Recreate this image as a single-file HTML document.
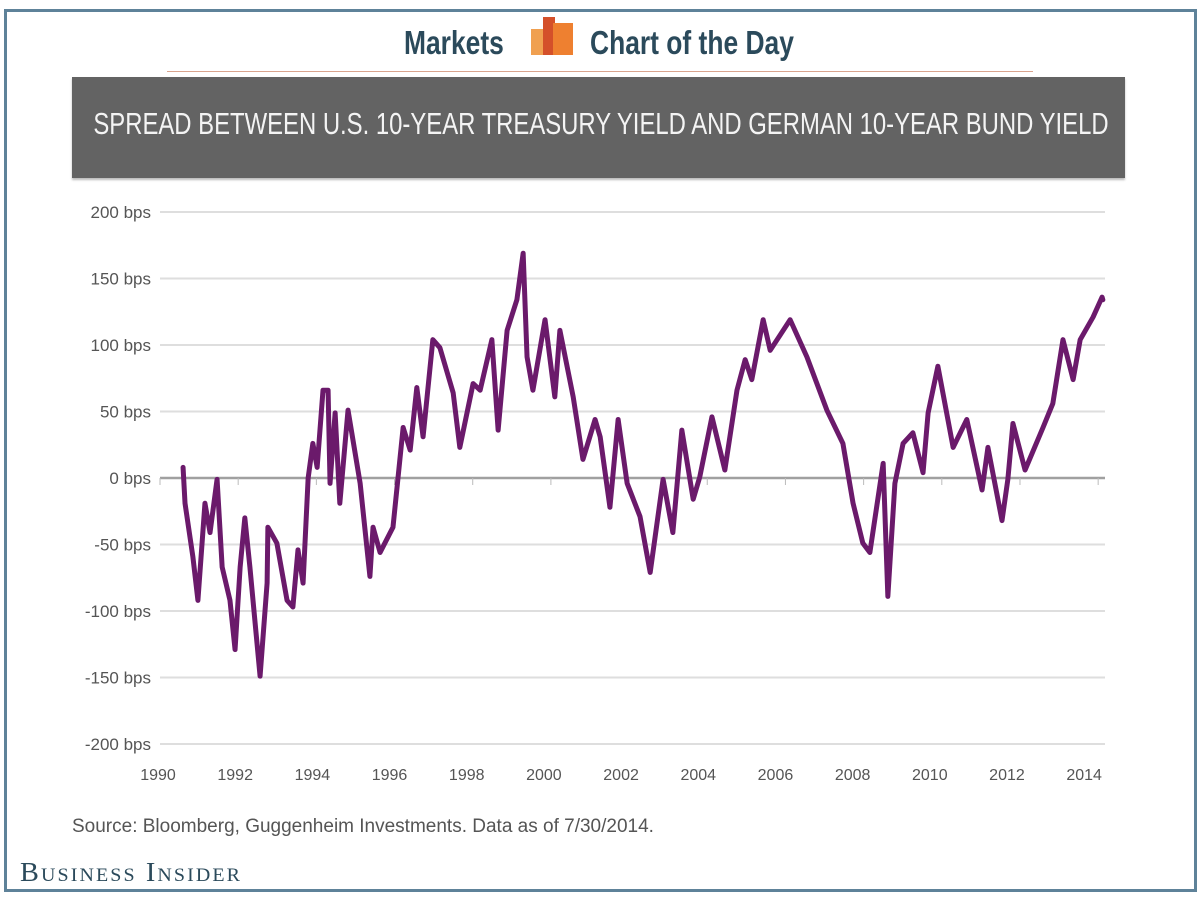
<!DOCTYPE html>
<html><head><meta charset="utf-8">
<style>
body{margin:0;background:#fff;width:1200px;height:900px;overflow:hidden;position:relative;font-family:"Liberation Sans",sans-serif}
.abs{position:absolute}
</style></head>
<body>
<div class="abs" style="left:4px;top:9px;width:1187px;height:877px;border:3px solid #5e8299;"></div>
<div class="abs" style="left:0;top:22px;width:1200px;height:46px;">
  <span class="abs" style="left:404px;top:2px;font-size:33px;font-weight:bold;color:#2b4a5b;transform:scaleX(0.8);transform-origin:left;font-family:'Liberation Sans Narrow','Liberation Sans',sans-serif;">Markets</span>
  <svg class="abs" style="left:529px;top:-5px" width="46" height="40">
    <rect x="2" y="12" width="14" height="26" fill="#f0a050"/><rect x="14" y="0" width="12" height="38" fill="#d4502a"/><rect x="24" y="6" width="20" height="32" fill="#ee8030"/>
  </svg>
  <span class="abs" style="left:590px;top:2px;font-size:33px;font-weight:bold;color:#2b4a5b;transform:scaleX(0.8);transform-origin:left;font-family:'Liberation Sans Narrow','Liberation Sans',sans-serif;white-space:nowrap;">Chart of the Day</span>
</div>
<div class="abs" style="left:167px;top:71px;width:866px;height:1px;background:#d9a48e"></div>
<div class="abs" style="left:72px;top:77px;width:1053px;height:101px;background:#636363;box-shadow:0 2px 2px #bbb;">
  <div class="abs" style="left:20px;top:29px;font-size:31px;color:#f4f4f4;white-space:nowrap;transform:scaleX(0.77);transform-origin:left;font-family:'Liberation Sans Narrow','Liberation Sans',sans-serif;width:1322px;text-align:center">SPREAD BETWEEN U.S. 10-YEAR TREASURY YIELD AND GERMAN 10-YEAR BUND YIELD</div>
</div>
<svg class="abs" id="chart" style="left:0;top:0" width="1200" height="900"></svg>
<div class="abs" style="left:72px;top:816px;font-size:19px;color:#555;">Source: Bloomberg, Guggenheim Investments. Data as of 7/30/2014.</div>
<div class="abs" style="left:20px;top:857px;font-size:27px;color:#2b4a5b;font-family:'Liberation Serif',serif;font-variant:small-caps;letter-spacing:2px;white-space:nowrap;transform:scaleX(1.05);transform-origin:left;">Business Insider</div>
<script>
const yTicks=[200,150,100,50,0,-50,-100,-150,-200];
const xTicks=[1990,1992,1994,1996,1998,2000,2002,2004,2006,2008,2010,2012,2014];
const years=[1990.59,1990.64,1990.84,1990.97,1991.15,1991.28,1991.46,1991.59,1991.79,1991.92,1992.05,1992.17,1992.30,1992.56,1992.74,1992.76,1992.99,1993.25,1993.40,1993.53,1993.66,1993.79,1993.91,1994.02,1994.17,1994.30,1994.35,1994.48,1994.60,1994.81,1995.12,1995.37,1995.45,1995.63,1995.96,1996.22,1996.40,1996.57,1996.73,1996.98,1997.16,1997.50,1997.67,1998.01,1998.19,1998.49,1998.65,1998.88,1999.13,1999.29,1999.39,1999.54,1999.85,2000.10,2000.23,2000.57,2000.82,2001.13,2001.26,2001.51,2001.72,2001.95,2002.28,2002.54,2002.87,2003.12,2003.35,2003.64,2003.81,2004.12,2004.45,2004.76,2004.97,2005.14,2005.43,2005.61,2006.12,2006.55,2007.06,2007.47,2007.73,2007.98,2008.16,2008.50,2008.62,2008.80,2009.01,2009.26,2009.52,2009.65,2009.90,2010.29,2010.64,2011.03,2011.18,2011.54,2011.69,2011.82,2012.13,2012.59,2012.84,2013.10,2013.36,2013.54,2013.87,2014.10,2014.12];
const spread=[8,-19,-59,-92,-19,-41,-1,-67,-92,-129,-67,-30,-67,-149,-79,-37,-49,-92,-97,-54,-79,0,26,8,66,66,-4,49,-19,51,-4,-74,-37,-56,-37,38,21,68,31,104,98,64,23,71,66,104,36,111,134,169,91,66,119,61,111,61,14,44,31,-22,44,-4,-29,-71,-1,-41,36,-16,1,46,6,66,89,74,119,96,119,91,51,26,-19,-49,-56,11,-89,-4,26,34,4,49,84,23,44,-9,23,-32,-1,41,6,38,56,104,74,104,121,136,134];
const svg=document.getElementById('chart');const NS='http://www.w3.org/2000/svg';
const X=y=>160+(y-1990)*39.09;
const Y=v=>478-v*1.33;
function mk(t,a){const e=document.createElementNS(NS,t);for(const k in a)e.setAttribute(k,a[k]);svg.appendChild(e);return e;}
yTicks.forEach(v=>{
  const l=mk('line',{x1:160,x2:1105,y1:Y(v),y2:Y(v),stroke:v===0?'#a0a0a0':'#dedede','stroke-width':v===0?2.5:2});
  
  
  const t=mk('text',{x:151,y:Y(v)+6,'text-anchor':'end','font-size':17,fill:'#555','font-family':'Liberation Sans, sans-serif'});
  t.textContent=v+' bps';
  
  
});
xTicks.forEach(yr=>{
  const tk=mk('line',{x1:X(yr),x2:X(yr),y1:478,y2:485,stroke:'#bbb','stroke-width':1});
  
  
  const t=mk('text',{x:X(yr)-2-(yr-1990)*0.5,y:780,'text-anchor':'middle','font-size':16,fill:'#555','font-family':'Liberation Sans, sans-serif'});
  t.textContent=yr;
  
  
});
const p=mk('polyline',{points:years.map((y,i)=>X(y)+','+Y(spread[i])).join(' '),fill:'none',stroke:'#6b1a6b','stroke-width':5,'stroke-linejoin':'round','stroke-linecap':'round'});


</script>
</body></html>
